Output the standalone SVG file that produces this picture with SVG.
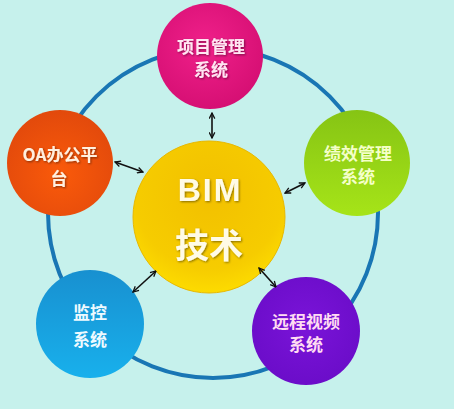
<svg xmlns="http://www.w3.org/2000/svg" width="454" height="409" viewBox="0 0 454 409">
<defs>
<style>
.lbl{font-family:"Noto Sans CJK SC","Noto Sans",sans-serif;font-weight:bold;font-size:17px;text-anchor:middle;dominant-baseline:central}
.conn line{stroke:#111;stroke-width:1.6;fill:none;marker-start:url(#ah);marker-end:url(#ah)}
</style>
<marker id="ah" viewBox="0 0 10 10" refX="9" refY="5" markerWidth="7" markerHeight="7" orient="auto-start-reverse" markerUnits="userSpaceOnUse">
<path d="M1,1 L9,5 L1,9" fill="none" stroke="#111" stroke-width="1.8"/>
</marker>
<radialGradient id="gPink" cx="0.45" cy="0.4" r="0.65"><stop offset="0" stop-color="#f0208a"/><stop offset="1" stop-color="#d40e72"/></radialGradient>
<radialGradient id="gOrange" cx="0.5" cy="0.6" r="0.65"><stop offset="0" stop-color="#fa5a0a"/><stop offset="1" stop-color="#e0480c"/></radialGradient>
<linearGradient id="gGreen" x1="0" y1="0" x2="0" y2="1"><stop offset="0" stop-color="#86c414"/><stop offset="1" stop-color="#a6e418"/></linearGradient>
<linearGradient id="gBlue" x1="0" y1="0" x2="0" y2="1"><stop offset="0" stop-color="#1890d0"/><stop offset="1" stop-color="#18b0ec"/></linearGradient>
<radialGradient id="gPurple" cx="0.5" cy="0.45" r="0.6"><stop offset="0" stop-color="#7a14d8"/><stop offset="1" stop-color="#6a0cc8"/></radialGradient>
<radialGradient id="gYellow" cx="0.5" cy="0.35" r="0.7"><stop offset="0" stop-color="#f2c000"/><stop offset="0.7" stop-color="#f6cc00"/><stop offset="1" stop-color="#ffe000"/></radialGradient>
<filter id="sh" x="-20%" y="-20%" width="140%" height="140%"><feDropShadow dx="1" dy="1" stdDeviation="0.8" flood-color="#000" flood-opacity="0.45"/></filter>
</defs>
<rect width="454" height="409" fill="#c6f1ec"/>
<circle cx="213" cy="213" r="165" fill="none" stroke="#1976b4" stroke-width="4"/>
<g id="n-top"><circle cx="210" cy="56" r="53" fill="url(#gPink)"/>
<text class="lbl" x="211" y="45" fill="#ffe6f2" filter="url(#sh)">项目管理</text>
<text class="lbl" x="211" y="68" fill="#ffe6f2" filter="url(#sh)">系统</text></g>
<g id="n-oa"><circle cx="60" cy="163" r="53" fill="url(#gOrange)"/>
<text class="lbl" x="60" y="153" fill="#fff0e0" filter="url(#sh)">OA办公平</text>
<text class="lbl" x="59" y="177" fill="#fff0e0" filter="url(#sh)">台</text></g>
<g id="n-green"><circle cx="357" cy="163" r="53" fill="url(#gGreen)"/>
<text class="lbl" x="358" y="152" fill="#f4ffc8">绩效管理</text>
<text class="lbl" x="358" y="175" fill="#f4ffc8">系统</text></g>
<g id="n-blue"><circle cx="90" cy="324" r="54" fill="url(#gBlue)"/>
<text class="lbl" x="90" y="311" fill="#eefaff">监控</text>
<text class="lbl" x="90" y="338" fill="#eefaff">系统</text></g>
<g id="n-purple"><circle cx="306" cy="331" r="54" fill="url(#gPurple)"/>
<text class="lbl" x="306" y="320" fill="#ffdcf2">远程视频</text>
<text class="lbl" x="306" y="343" fill="#ffdcf2">系统</text></g>
<g id="n-center"><circle cx="209" cy="217" r="76" fill="url(#gYellow)" stroke="#e8b800" stroke-width="1"/>
<text x="210" y="201" text-anchor="middle" font-family="'Liberation Sans',sans-serif" font-weight="bold" font-size="32" letter-spacing="2" fill="#fffbe6" filter="url(#sh)">BIM</text>
<text x="209" y="258" text-anchor="middle" font-family="'Noto Sans CJK SC',sans-serif" font-weight="bold" font-size="34" fill="#fffbe6" filter="url(#sh)">技术</text></g>
<g id="connectors" class="conn">
<line x1="212" y1="113" x2="212" y2="138"/>
<line x1="115" y1="162" x2="143" y2="172"/>
<line x1="305" y1="183" x2="285" y2="193"/>
<line x1="156" y1="271" x2="133" y2="292"/>
<line x1="259" y1="268" x2="276" y2="287"/>
</g>
</svg>
